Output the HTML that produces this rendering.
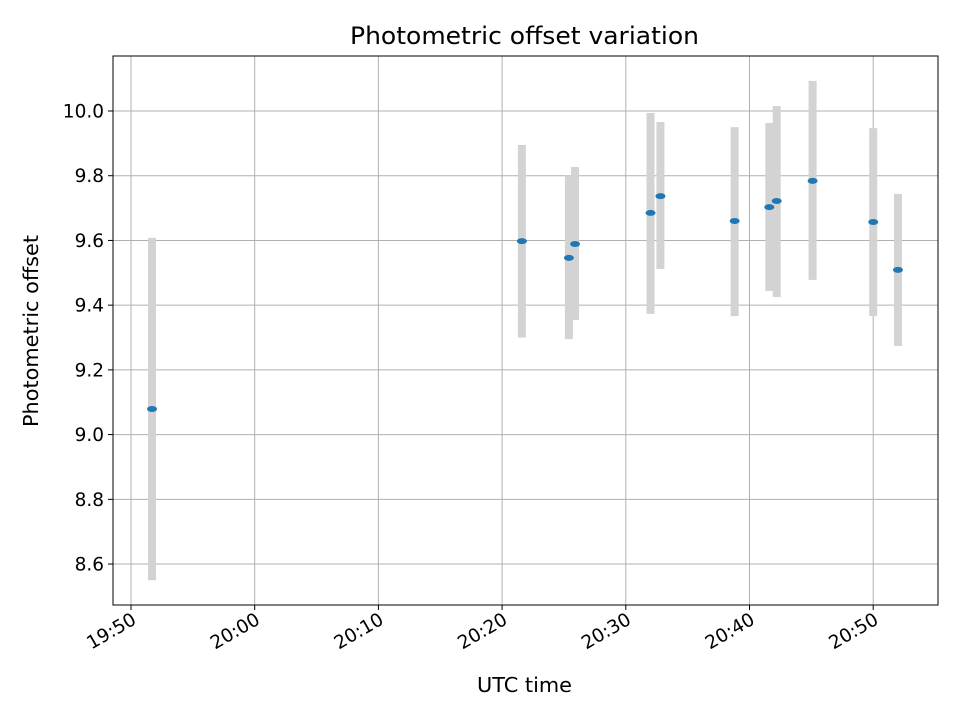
<!DOCTYPE html>
<html><head><meta charset="utf-8"><style>body{margin:0;background:#fff}svg{display:block;font-family:"DejaVu Sans","Liberation Sans",sans-serif}</style></head>
<body>
<svg id="chart" width="960" height="720"></svg>
<script>
const times=[1.7,31.6,35.4,35.9,42.0,42.8,48.8,51.6,52.2,55.1,60.0,62.0]; // minutes after 19:50
const values=[9.079,9.598,9.546,9.589,9.685,9.737,9.660,9.703,9.722,9.784,9.657,9.509];
const errLow=[8.55,9.30,9.295,9.354,9.373,9.512,9.366,9.444,9.425,9.478,9.366,9.274];
const errHigh=[9.608,9.895,9.80,9.827,9.994,9.966,9.95,9.963,10.015,10.093,9.947,9.744];
const xTickLabels=["19:50","20:00","20:10","20:20","20:30","20:40","20:50"];
const xTickMins=[0,10,20,30,40,50,60];
const yTicks=[8.6,8.8,9.0,9.2,9.4,9.6,9.8,10.0];
const L=113,R=938,T=56,B=605;
const xs=m=>131+m*12.37;
const ys=v=>111+(10-v)*323.6;
const svg=document.getElementById('chart');const NS='http://www.w3.org/2000/svg';
function mk(t,a,p){const e=document.createElementNS(NS,t);for(const k in a)e.setAttribute(k,a[k]);(p||svg).appendChild(e);return e;}
const grid=mk('g',{});
xTickMins.forEach((m,i)=>{const x=xs(m);
 mk('line',{x1:x,x2:x,y1:T,y2:B,stroke:'#b0b0b0','stroke-width':1},grid);
 mk('line',{x1:x,x2:x,y1:B,y2:B+5,stroke:'#000'});
 const t=mk('text',{x:x+3,y:B+19,'font-size':'18.5','text-anchor':'end',transform:`rotate(-30 ${x+3} ${B+12})`});
 t.textContent=xTickLabels[i];});
yTicks.forEach(v=>{const y=ys(v);
 mk('line',{x1:L,x2:R,y1:y,y2:y,stroke:'#b0b0b0','stroke-width':1},grid);
 mk('line',{x1:L-5,x2:L,y1:y,y2:y,stroke:'#000'});
 const t=mk('text',{x:L-9,y:y+6.5,'font-size':'18.5','text-anchor':'end'});
 t.textContent=v.toFixed(1);});
const ser=mk('g',{});
times.forEach((m,i)=>{const x=xs(m);
 const e=mk('rect',{x:x-4,y:ys(errHigh[i]),width:8,height:ys(errLow[i])-ys(errHigh[i]),fill:'#d3d3d3'},ser);
 });
times.forEach((m,i)=>{
 const p=mk('ellipse',{cx:xs(m),cy:ys(values[i]),rx:5,ry:3,fill:'#1f77b4'},ser);
 });
const fr=mk('rect',{x:L,y:T,width:R-L,height:B-T,fill:'none',stroke:'#000','stroke-width':1});

let t=mk('text',{x:350,y:44,'font-size':'24',textLength:349,lengthAdjust:'spacingAndGlyphs'});t.textContent='Photometric offset variation';

t=mk('text',{x:477,y:692,'font-size':'20',textLength:95,lengthAdjust:'spacingAndGlyphs'});t.textContent='UTC time';

t=mk('text',{x:38,y:427,'font-size':'20',textLength:192,lengthAdjust:'spacingAndGlyphs',transform:'rotate(-90 38 427)'});t.textContent='Photometric offset';

</script>
</body></html>
